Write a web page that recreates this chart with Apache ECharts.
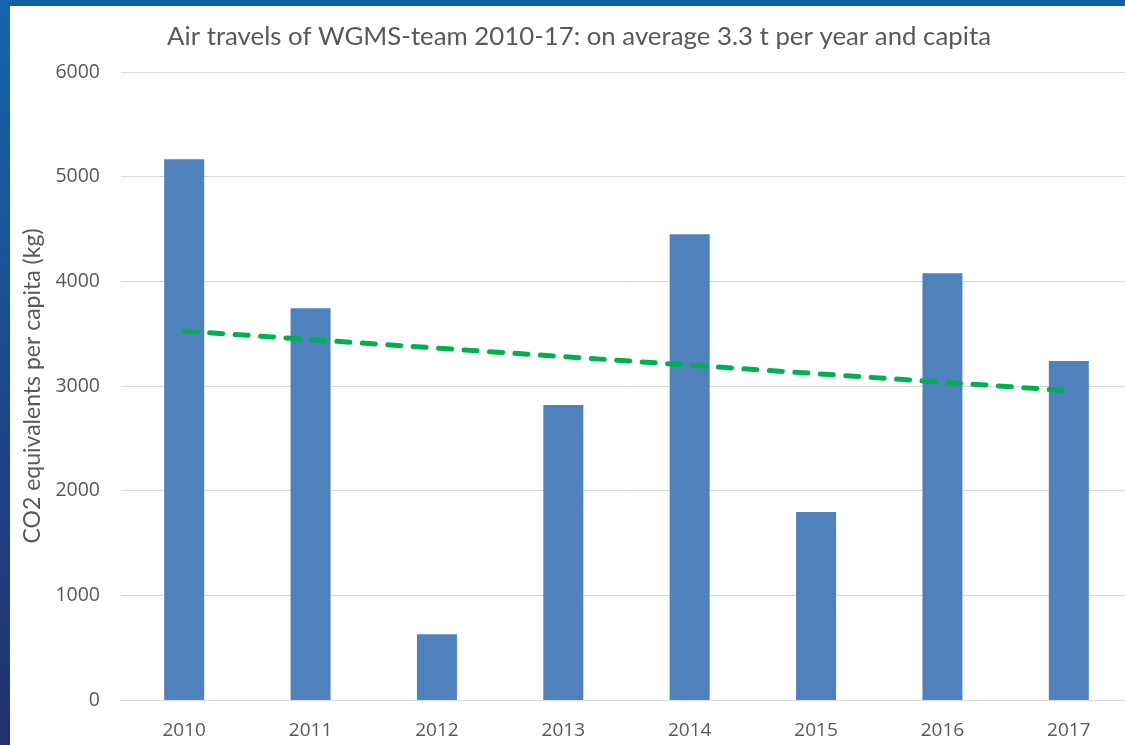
<!DOCTYPE html>
<html>
<head>
<meta charset="utf-8">
<script src="https://cdn.jsdelivr.net/npm/echarts@6/dist/echarts.min.js"></script>
<style>
html,body{margin:0;padding:0;width:1125px;height:745px;overflow:hidden;background:#fff;}
#frameTop{position:absolute;left:0;top:0;width:1125px;height:6px;background:#1160a6;}
#frameLeft{position:absolute;left:0;top:0;width:10px;height:745px;background:linear-gradient(#1565ad,#22306e);}
#chart{position:absolute;left:0;top:0;width:1140px;height:745px;}
</style>
</head>
<body>
<div id="chart"></div>
<div id="frameTop"></div>
<div id="frameLeft"></div>
<script>
const titleText = 'Air travels of WGMS-team 2010-17: on average 3.3 t per year and capita';
const yAxisName = 'CO2 equivalents per capita (kg)';
const years = ['2010','2011','2012','2013','2014','2015','2016','2017'];
const co2Values = [5167, 3744, 627, 2818, 4451, 1796, 4078, 3238];
const trendYears = ['2010','2017'];
const trendValues = [3525, 2955];

const chart = echarts.init(document.getElementById('chart'));
const font = 'Lato, "Open Sans", sans-serif';
const numFont = '"Open Sans", Lato, sans-serif';
chart.setOption({
  animation: false,
  backgroundColor: '#ffffff',
  title: {
    text: titleText,
    left: 574, top: 19, textAlign: 'center',
    textStyle: {fontFamily: font, fontSize: 25.8, fontWeight: 'normal', color: '#595959'}
  },
  grid: {left: 121, top: 72, width: 1011, height: 628, containLabel: false},
  xAxis: {
    type: 'category', data: years,
    axisLine: {lineStyle: {color: '#d9d9d9', width: 1}},
    axisTick: {show: false},
    axisLabel: {fontFamily: numFont, fontSize: 19, color: '#595959', margin: 21}
  },
  yAxis: {
    type: 'value', min: 0, max: 6000, interval: 1000,
    name: yAxisName, nameLocation: 'middle', nameGap: 68, nameRotate: 90,
    nameTextStyle: {fontFamily: font, fontSize: 23, color: '#595959'},
    axisLine: {show: false}, axisTick: {show: false},
    axisLabel: {fontFamily: numFont, fontSize: 19.5, color: '#595959', margin: 21, formatter: v => String(v)},
    splitLine: {lineStyle: {color: '#d9d9d9', width: 1}}
  },
  series: [
    {type: 'bar', data: co2Values, barWidth: 40, itemStyle: {color: '#4f81bd'}, z: 2},
    {type: 'line', data: trendYears.map((y, i) => [y, trendValues[i]]), symbol: 'none',
     lineStyle: {color: '#00b050', width: 5, type: [13, 12.5], cap: 'round'}, z: 3}
  ]
});
</script>
</body>
</html>
